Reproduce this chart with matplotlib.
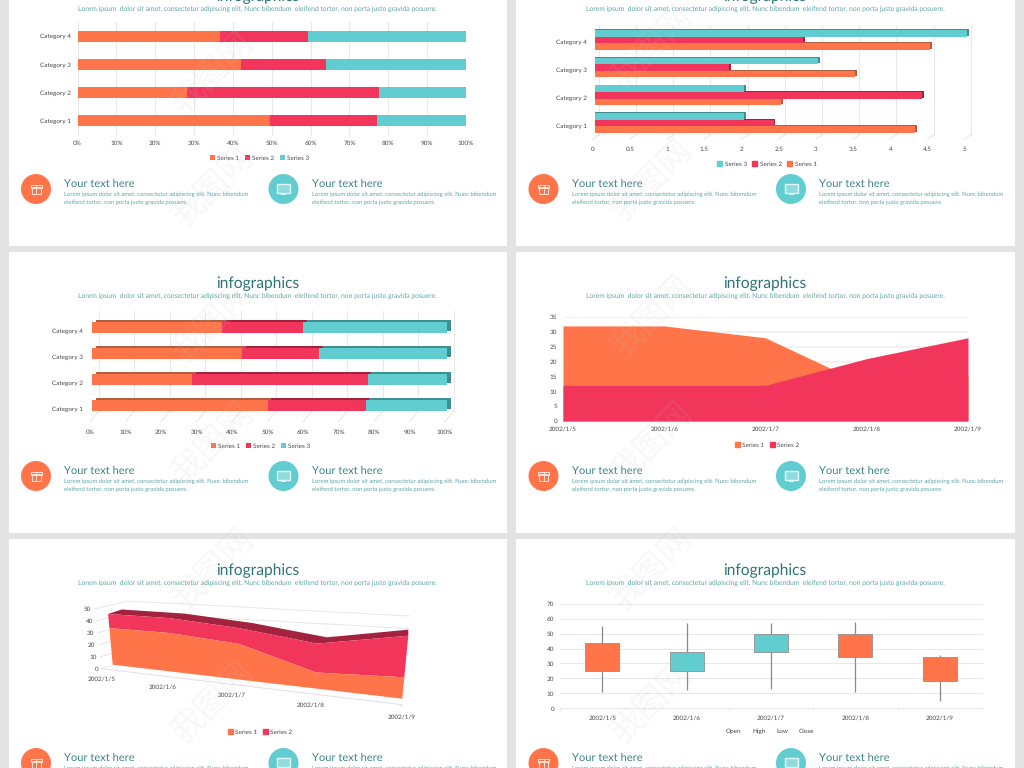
import numpy as np
import matplotlib
matplotlib.use("Agg")
import matplotlib.pyplot as plt
from matplotlib.patches import Circle, Rectangle

plt.rcParams['font.family'] = ['Lato', 'DejaVu Sans']
plt.rcParams['text.hinting'] = 'no_hinting'

ORANGE = '#ff7549'
RED = '#f2355b'
TEAL = '#62cdd1'
ORANGE_DARK = '#b0603f'
RED_DARK = '#a3233f'
TEAL_DARK = '#3f8f92'
GRID = '#e8e8e8'
TICK_COLOR = '#484848'
TICK_SIZE = 4.6

# bar charts
categories = ['Category 1', 'Category 2', 'Category 3', 'Category 4']
bar_series1 = [4.3, 2.5, 3.5, 4.5]
bar_series2 = [2.4, 4.4, 1.8, 2.8]
bar_series3 = [2, 2, 3, 5]
percent_ticks = [0, 10, 20, 30, 40, 50, 60, 70, 80, 90, 100]
value_ticks = [0, 0.5, 1, 1.5, 2, 2.5, 3, 3.5, 4, 4.5, 5]
value_tick_labels = ['0', '0.5', '1', '1.5', '2', '2.5', '3', '3.5', '4', '4.5', '5']

# area charts
dates = ['2002/1/5', '2002/1/6', '2002/1/7', '2002/1/8', '2002/1/9']
area_series1 = [32, 32, 28, 12, 15]
area_series2 = [12, 12, 12, 21, 28]
area_ticks = [0, 5, 10, 15, 20, 25, 30, 35]
area3d_ticks = [0, 10, 20, 30, 40, 50]

# stock chart
stock_open = [44, 25, 38, 50, 34]
stock_high = [55, 57, 57, 58, 36]
stock_low = [11, 12, 13, 11, 5]
stock_close = [25, 38, 50, 34, 18]
stock_ticks = [0, 10, 20, 30, 40, 50, 60, 70]

TITLE = 'infographics'
SUBTITLE = 'Lorem ipsum  dolor sit amet, consectetur adipiscing elit. Nunc bibendum  eleifend tortor, non porta justo gravida posuere.'
HEADING = 'Your text here'
BODY1 = 'Lorem ipsum dolor sit amet, consectetur adipiscing elit. Nunc bibendum'
BODY2 = 'eleifend tortor, non porta justo gravida posuere.'
WATERMARK = '我图网'

W, H = 1024, 768
fig = plt.figure(figsize=(W / 100, H / 100), dpi=100, facecolor='#e3e3e3')

bg = fig.add_axes([0, 0, 1, 1], zorder=0)
bg.set_xlim(0, W)
bg.set_ylim(H, 0)
bg.axis('off')


def px_axes(left, top, right, bottom):
    ax = fig.add_axes([left / W, 1 - bottom / H, (right - left) / W, (bottom - top) / H], zorder=2)
    ax.patch.set_alpha(0)
    for s in ax.spines.values():
        s.set_visible(False)
    ax.tick_params(length=0, labelsize=TICK_SIZE, labelcolor=TICK_COLOR)
    return ax


def add_legend(ax, cx, cy, handles, labels):
    return ax.legend(handles, labels, loc='center', bbox_to_anchor=(cx / W, 1 - cy / H),
                     bbox_transform=fig.transFigure, ncol=len(labels), frameon=False,
                     fontsize=TICK_SIZE, labelcolor=TICK_COLOR, handlelength=0.8, handleheight=0.8,
                     handletextpad=0.4, columnspacing=0.8, borderpad=0)


def draw_icon_gift(cx, cy):
    bg.add_patch(Rectangle((cx - 4.5, cy - 2), 9, 7, fill=False, ec='#ffe3d8', lw=0.7, zorder=3))
    bg.add_patch(Rectangle((cx - 5.5, cy - 4), 11, 2.5, fill=False, ec='#ffe3d8', lw=0.7, zorder=3))
    bg.plot([cx, cx], [cy - 4, cy + 5], color='#ffe3d8', lw=0.7, zorder=3)


def draw_icon_screen(cx, cy):
    bg.add_patch(Rectangle((cx - 6.5, cy - 5.5), 13, 9.5, fc='#8fdbde', ec='#e4f7f8', lw=1, zorder=3))
    bg.add_patch(Rectangle((cx - 2.5, cy + 4.5), 5, 1.5, fc='#e4f7f8', ec='none', zorder=3))


def draw_slide(left, right, top, bottom, row_top, col_dx):
    bg.add_patch(Rectangle((left, top), right - left, bottom - top, fc='white', ec='none', zorder=1))
    bg.text(257.5 + col_dx, row_top + 31.5, TITLE, ha='center', va='center', fontsize=11.2, color='#2c7477', zorder=3)
    bg.text(257.5 + col_dx, row_top + 44, SUBTITLE, ha='center', va='center', fontsize=4.85, color='#5fa5a7', zorder=3)
    for k, (circle_x, color) in enumerate([(36, ORANGE), (283.5, TEAL)]):
        cx = circle_x + col_dx
        cy = row_top + 224
        bg.add_patch(Circle((cx, cy), 15, fc=color, ec='none', zorder=2))
        if k == 0:
            draw_icon_gift(cx, cy)
        else:
            draw_icon_screen(cx, cy)
        tx = cx + 28
        bg.text(tx, row_top + 219, HEADING, va='center', fontsize=8, color='#3d8588', zorder=3)
        bg.text(tx, row_top + 229, BODY1, va='center', fontsize=4.25, color='#5fa5a7', zorder=3)
        bg.text(tx, row_top + 237, BODY2, va='center', fontsize=4.25, color='#5fa5a7', zorder=3)


# slide backgrounds and their text
row_tops = [-35, 252, 539]
row_bottoms = [246, 533, 775]
for row_top, row_bottom in zip(row_tops, row_bottoms):
    draw_slide(9, 507, row_top, row_bottom, row_top, 0)
    draw_slide(516, 1015, row_top, row_bottom, row_top, 507.5)

y_pos = np.arange(len(categories))
s1 = np.array(bar_series1, dtype=float)
s2 = np.array(bar_series2, dtype=float)
s3 = np.array(bar_series3, dtype=float)
total = s1 + s2 + s3
p1 = s1 / total * 100
p2 = s2 / total * 100
p3 = s3 / total * 100

# 100% stacked bars
ax = px_axes(77.5, 22, 466, 135)
b1 = ax.barh(y_pos, p1, 0.39, color=ORANGE, zorder=2)
b2 = ax.barh(y_pos, p2, 0.39, left=p1, color=RED, zorder=2)
b3 = ax.barh(y_pos, p3, 0.39, left=p1 + p2, color=TEAL, zorder=2)
ax.set_xticks(percent_ticks, [str(v) + '%' for v in percent_ticks])
ax.set_yticks(y_pos, categories)
ax.set_xlim(0, 100)
ax.set_ylim(-0.5, 3.5)
ax.tick_params(axis='x', pad=3.8)
ax.tick_params(axis='y', pad=4.5)
ax.grid(axis='x', color=GRID, lw=0.8, zorder=0)
add_legend(ax, 259.5, 158, [b1, b2, b3], ['Series 1', 'Series 2', 'Series 3'])

# clustered bars with a little depth (axes start a bit left of zero for the tick labels)
ax = px_axes(592.77, 25.9, 967, 136.9)
bar_h = 0.235
dx, dy = 0.025, 0.035
for vals, offset, col, dark in [(s1, -bar_h, ORANGE, ORANGE_DARK), (s2, 0, RED, RED_DARK), (s3, bar_h, TEAL, TEAL_DARK)]:
    ax.barh(y_pos + offset + dy, vals + dx, bar_h, color=dark, zorder=2, clip_on=False)
    ax.barh(y_pos + offset, vals, bar_h, color=col, zorder=2, clip_on=False)
ax.set_xticks(np.array(value_ticks) - 0.03, value_tick_labels)
ax.set_yticks(y_pos - 0.08, categories)
ax.set_xlim(-0.03, 5)
ax.set_ylim(-0.5, 3.5)
ax.tick_params(axis='x', pad=6.8)
ax.tick_params(axis='y', pad=3.9)
for v in value_ticks:
    ax.plot([v + 0.05, v + 0.05], [-0.42, 3.55], color=GRID, lw=0.8, zorder=0, clip_on=False)
    ax.plot([v - 0.03, v + 0.05], [-0.58, -0.42], color=GRID, lw=0.8, zorder=0, clip_on=False)
handles = [Rectangle((0, 0), 1, 1, color=c) for c in (TEAL, RED, ORANGE)]
add_legend(ax, 767, 164, handles, ['Series 3', 'Series 2', 'Series 1'])

# 100% stacked bars, 3D look
ax = px_axes(90, 314.8, 447.3, 418.8)
bar_h = 0.42
dx, dy = 1.0, 0.08
lefts = [np.zeros(4), p1, p1 + p2]
handles = []
for vals, base, dark in [(p3, lefts[2], TEAL_DARK), (p2, lefts[1], RED_DARK), (p1, lefts[0], ORANGE_DARK)]:
    ax.barh(y_pos + dy, vals, bar_h, left=base + dx, color=dark, zorder=2, clip_on=False)
for vals, base, col in [(p3, lefts[2], TEAL), (p2, lefts[1], RED), (p1, lefts[0], ORANGE)]:
    handles.insert(0, ax.barh(y_pos, vals, bar_h, left=base, color=col, zorder=3))
ax.set_xticks(np.array(percent_ticks) - 0.65, [str(v) + '%' for v in percent_ticks])
ax.set_yticks(y_pos - 0.1, categories)
ax.set_xlim(-0.65, 100)
ax.set_ylim(-0.5, 3.5)
ax.tick_params(axis='x', pad=7.5)
ax.tick_params(axis='y', pad=4.8)
for v in percent_ticks:
    ax.plot([v + 1.8, v + 1.8], [-0.2, 3.63], color=GRID, lw=0.8, zorder=0, clip_on=False)
    ax.plot([v - 0.65, v + 1.8], [-0.62, -0.2], color=GRID, lw=0.8, zorder=0, clip_on=False)
add_legend(ax, 260.5, 446, handles, ['Series 1', 'Series 2', 'Series 3'])

# area chart
ax = px_axes(563, 317, 968, 421)
x_pos = np.arange(len(dates))
ax.fill_between(x_pos, 0, area_series1, color=ORANGE, lw=0, zorder=2)
ax.fill_between(x_pos, 0, area_series2, color=RED, lw=0, zorder=3)
ax.set_xticks(x_pos, dates)
ax.set_yticks(area_ticks)
ax.set_xlim(0, 4)
ax.set_ylim(0, 35)
ax.tick_params(axis='x', pad=3.8)
ax.tick_params(axis='y', pad=4.3)
ax.grid(axis='y', color='#eeeeee', lw=1.1, zorder=0)
ax.set_axisbelow(True)
handles = [Rectangle((0, 0), 1, 1, color=c) for c in (ORANGE, RED)]
add_legend(ax, 767, 445, handles, ['Series 1', 'Series 2'])


# 3D area chart: projective map from (date index, value) to pixels
def homography(src, dst):
    a = []
    b = []
    for (u, v), (x, y) in zip(src, dst):
        a.append([u, v, 1, 0, 0, 0, -u * x, -v * x])
        a.append([0, 0, 0, u, v, 1, -u * y, -v * y])
        b += [x, y]
    return np.append(np.linalg.solve(np.array(a), np.array(b)), 1).reshape(3, 3)


def project(mat, t, v):
    t = np.asarray(t, dtype=float)
    v = np.asarray(v, dtype=float) * np.ones_like(t)
    q = mat @ np.vstack([t, v, np.ones_like(t)])
    return q[0] / q[2], q[1] / q[2]


corners = [(0, 0), (4, 0), (0, 50), (4, 50)]
front = homography(corners, [(112.7, 664.7), (402.3, 698.7), (107.5, 606.8), (409.3, 625)])
back = homography(corners, [(124, 660), (407, 688), (121.5, 602.5), (408.5, 620)])
wall = homography(corners, [(130, 660), (407, 678), (128, 601), (410, 616)])

t_pos = np.arange(len(dates), dtype=float)
lower = np.array(area_series1, dtype=float)
upper = lower + np.array(area_series2, dtype=float)

for v in area3d_ticks:
    lx = 101.7 - 6.7 * v / 50
    ly = 668.7 - 60 * v / 50
    wx, wy = project(wall, [0, 4], v)
    bg.plot([lx, wx[0], wx[1]], [ly, wy[0], wy[1]], color='#e6e6e6', lw=0.7, zorder=2)
    bg.text(lx - 3.5, ly + 0.5, str(v), ha='right', va='center', fontsize=TICK_SIZE, color=TICK_COLOR, zorder=4)
bg.plot([101.7, 402, 402], [668.7, 704.7, 707], color='#e0e0e0', lw=0.7, zorder=2)

fx, fy = project(front, t_pos, upper)
bx, by = project(back, t_pos, upper)
bg.fill(np.r_[fx, bx[::-1]], np.r_[fy, by[::-1]], color=RED_DARK, lw=0, zorder=3)
x0, y0 = project(front, t_pos, lower)
bg.fill(np.r_[x0, fx[::-1]], np.r_[y0, fy[::-1]], color=RED, lw=0, zorder=3)
x1, y1 = project(front, t_pos, 0)
bg.fill(np.r_[x1, x0[::-1]], np.r_[y1, y0[::-1]], color=ORANGE, lw=0, zorder=3)

date_label_x = [101.5, 163, 232, 311, 402]
date_label_y = [679.5, 687.5, 695.5, 705.5, 717]
for d, lx, ly in zip(dates, date_label_x, date_label_y):
    bg.text(lx, ly, d, ha='center', va='center', fontsize=TICK_SIZE, color=TICK_COLOR, zorder=4)
handles = [Rectangle((0, 0), 1, 1, color=c) for c in (ORANGE, RED)]
add_legend(bg, 260, 732, handles, ['Series 1', 'Series 2']).set_zorder(4)

# stock chart
ax = px_axes(560, 603.7, 982, 708.3)
o = np.array(stock_open)
c = np.array(stock_close)
ax.vlines(x_pos, stock_low, stock_high, color='#8a8a8a', lw=0.9, zorder=2)
box_colors = [TEAL if c[i] > o[i] else ORANGE for i in range(len(dates))]
ax.bar(x_pos, np.abs(c - o), 0.405, bottom=np.minimum(o, c), color=box_colors, edgecolor='#909090', lw=0.6, zorder=3)
ax.set_xticks(x_pos, dates)
ax.set_yticks(stock_ticks)
ax.set_xlim(-0.5, 4.5)
ax.set_ylim(0, 70)
ax.tick_params(axis='x', pad=5.2)
ax.tick_params(axis='y', pad=4.3)
ax.grid(axis='y', color=GRID, lw=0.8, zorder=0)
ax.set_axisbelow(True)
for line in ax.get_ygridlines():
    line.set_clip_on(False)
for edge in np.arange(-0.5, 5):
    ax.plot([edge, edge], [0, -1], color=GRID, lw=0.7, clip_on=False)
for name, lx in zip(['Open', 'High', 'Low', 'Close'], [733.5, 759.5, 782, 806.5]):
    bg.text(lx, 731.7, name, ha='center', va='center', fontsize=TICK_SIZE, color=TICK_COLOR, zorder=4)

# faint site stamp across the picture
top = fig.add_axes([0, 0, 1, 1], zorder=5)
top.set_xlim(0, W)
top.set_ylim(H, 0)
top.axis('off')
top.patch.set_alpha(0)
mark_cols = [(213, [73, 187, 322, 443, 569, 702]), (652, [47, 180, 316, 443, 569, 702])]
for mx, mys in mark_cols:
    for my in mys:
        top.text(mx, my, WATERMARK, rotation=45, ha='center', va='center', fontsize=24,
                 family=['Noto Sans CJK SC', 'DejaVu Sans'], color='#c4c4c4', alpha=0.12)

fig.savefig('out.png', dpi=100, facecolor=fig.get_facecolor())
